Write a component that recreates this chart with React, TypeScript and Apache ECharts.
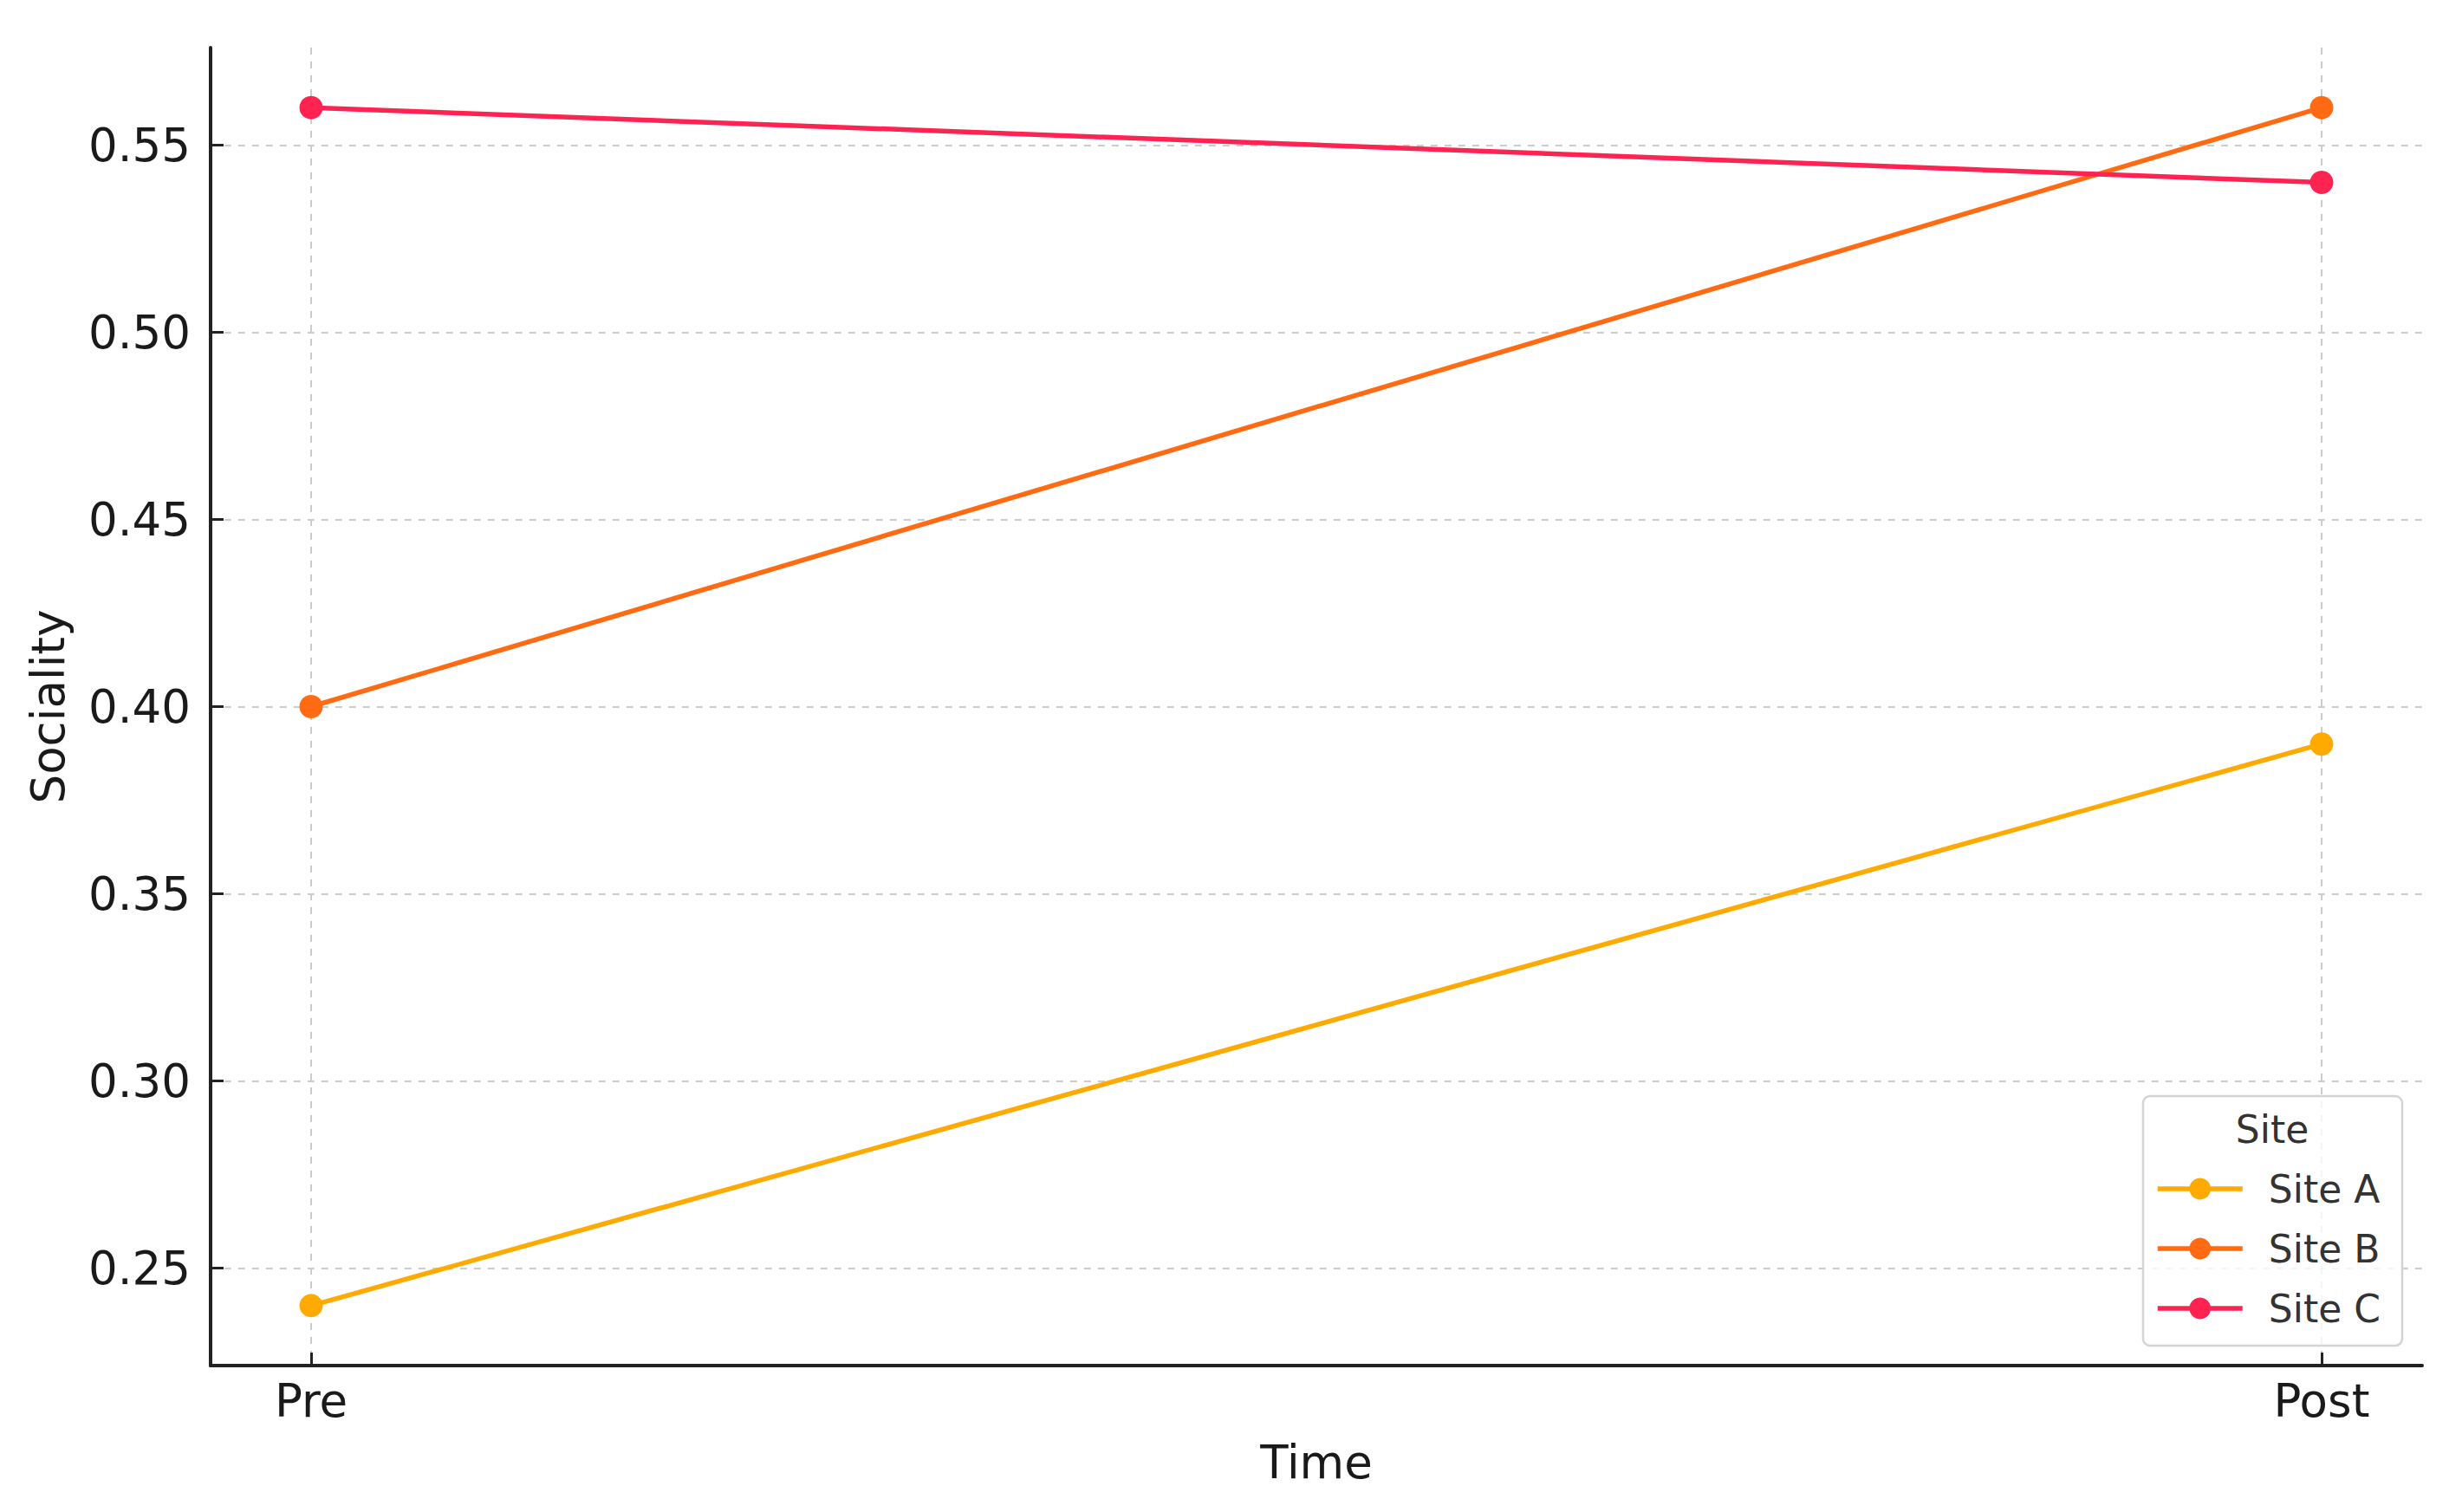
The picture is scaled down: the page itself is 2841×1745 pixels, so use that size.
import React, { useEffect, useRef } from "react";
import * as echarts from "echarts";

const timePoints = ["Pre", "Post"];
const timeX = [0, 1];
const siteNames = ["Site A", "Site B", "Site C"];
const siteAValues = [0.24, 0.39];
const siteBValues = [0.4, 0.56];
const siteCValues = [0.56, 0.54];
const siteColors = ["#FFAA00", "#FF6A13", "#FF2352"];
const yTicks = [0.25, 0.3, 0.35, 0.4, 0.45, 0.5, 0.55];

const FONT = "DejaVu Sans";

export default function App() {
  const ref = useRef<HTMLDivElement>(null);
  useEffect(() => {
    if (!ref.current) return;
    const chart = echarts.init(ref.current, null, { renderer: "svg" });
    const seriesValues = [siteAValues, siteBValues, siteCValues];
    const series = siteNames.map((name, i) => ({
      name,
      type: "line",
      data: timeX.map((x, j) => [x, seriesValues[i][j]]),
      symbol: "circle",
      symbolSize: 27,
      lineStyle: { width: 5.5, color: siteColors[i] },
      itemStyle: { color: siteColors[i] },
      z: 3,
    }));
    chart.setOption({
      animation: false,
      backgroundColor: "#ffffff",
      grid: { left: 243, right: 46, top: 55, bottom: 169, containLabel: false },
      xAxis: {
        type: "value",
        min: -0.05,
        max: 1.05,
        name: "Time",
        nameLocation: "middle",
        nameGap: 85,
        nameTextStyle: { fontFamily: FONT, fontSize: 53, color: "#1a1a1a" },
        axisLine: { show: true, onZero: false, lineStyle: { color: "#222", width: 4 } },
        axisTick: { show: true, inside: true, length: 15, lineStyle: { color: "#222", width: 3 }, customValues: timeX },
        axisLabel: {
          customValues: timeX,
          margin: 14,
          fontFamily: FONT,
          fontSize: 53,
          color: "#1a1a1a",
          formatter: (v: number) => timePoints[Math.round(v)] ?? "",
        },
        splitLine: { show: true, lineStyle: { color: "#cccccc", width: 2, type: [8, 8] } },
      },
      yAxis: {
        type: "value",
        min: 0.224,
        max: 0.576,
        name: "Sociality",
        nameLocation: "middle",
        nameGap: 161,
        nameTextStyle: { fontFamily: FONT, fontSize: 53, color: "#1a1a1a" },
        axisLine: { show: true, onZero: false, lineStyle: { color: "#222", width: 4 } },
        axisTick: { show: true, inside: true, length: 15, lineStyle: { color: "#222", width: 3 }, customValues: yTicks },
        axisLabel: {
          customValues: yTicks,
          margin: 23,
          fontFamily: FONT,
          fontSize: 53,
          color: "#1a1a1a",
          formatter: (v: number) => v.toFixed(2),
        },
        splitLine: { show: true, lineStyle: { color: "#cccccc", width: 2, type: [8, 8] } },
      },
      legend: {
        orient: "vertical",
        left: 2487,
        top: 1350,
        padding: 0,
        itemWidth: 98,
        itemHeight: 31,
        itemGap: 25,
        z: 20,
        data: siteNames,
        lineStyle: { width: 5.5 },
        textStyle: { fontFamily: FONT, fontSize: 44, color: "#333333", padding: [0, 0, 0, 25] },
      },
      graphic: [
        {
          type: "rect",
          z: 10,
          shape: { x: 2473, y: 1265, width: 299, height: 288, r: 8 },
          style: { fill: "rgba(255,255,255,0.8)", stroke: "#d4d4d4", lineWidth: 2.5 },
        },
        {
          type: "text",
          z: 20,
          x: 2622,
          y: 1303,
          style: {
            text: "Site",
            fontFamily: FONT,
            fontSize: 44,
            fill: "#333333",
            align: "center",
            verticalAlign: "middle",
          },
        },
      ],
      series,
    });
    return () => chart.dispose();
  }, []);
  return (
    <div
      ref={ref}
      style={{ position: "fixed", left: 0, top: 0, width: 2841, height: 1745, background: "#fff" }}
    />
  );
}
